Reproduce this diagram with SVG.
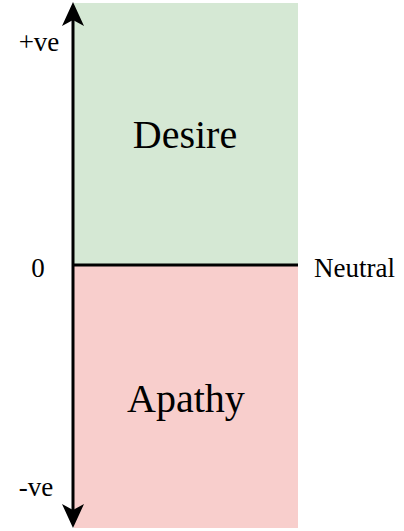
<svg xmlns="http://www.w3.org/2000/svg" width="404" height="531" viewBox="0 0 404 531">
<style>
text{font-family:"Liberation Serif","Times New Roman",serif;fill:#000}
.big{font-size:40px}
.sm{font-size:27px}
.ax{stroke:#000;stroke-width:3;fill:none}
</style>
<g id="desire">
<rect x="74" y="3" width="224" height="262" fill="#d5e8d4"/>
<text class="big" x="185" y="148" text-anchor="middle">Desire</text>
</g>
<g id="apathy">
<rect x="74" y="265" width="224" height="263" fill="#f8cecc"/>
<text class="big" x="186" y="412" text-anchor="middle">Apathy</text>
</g>
<g id="connectors">
<line class="ax" x1="73" y1="20" x2="73" y2="510"/>
<polygon points="73,2 62,26 73,20 84,26" fill="#000"/>
<polygon points="73,528 62,504 73,510 84,504" fill="#000"/>
<line class="ax" x1="73" y1="265" x2="298" y2="265"/>
</g>
<g id="labels">
<text class="sm" x="39" y="51" text-anchor="middle">+ve</text>
<text class="sm" x="38" y="277" text-anchor="middle">0</text>
<text class="sm" x="36" y="496" text-anchor="middle">-ve</text>
<text class="sm" x="314" y="277">Neutral</text>
</g>
</svg>
